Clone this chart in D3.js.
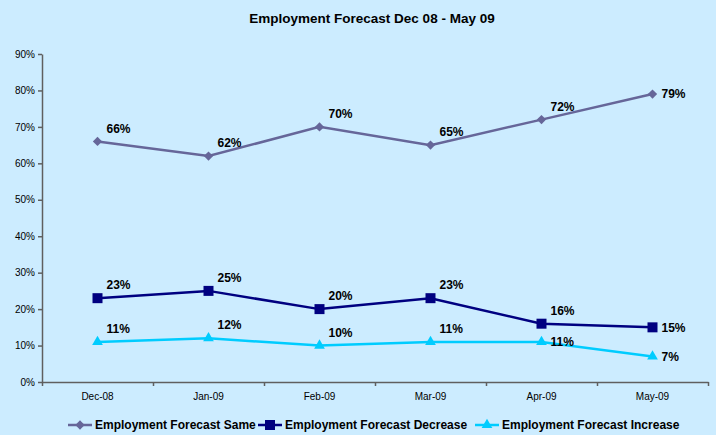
<!DOCTYPE html>
<html>
<head>
<meta charset="utf-8">
<script src="https://cdn.jsdelivr.net/npm/d3@7"></script>
<style>
  body { margin: 0; background: #ccecff; }
  svg { display: block; font-family: "Liberation Sans", Arial, sans-serif; }
</style>
</head>
<body>
<svg id="chart" width="716" height="435"></svg>
<script>
// data
let months = ["Dec-08", "Jan-09", "Feb-09", "Mar-09", "Apr-09", "May-09"];
let sameVals = [0.66, 0.62, 0.70, 0.65, 0.72, 0.79];
let decreaseVals = [0.23, 0.25, 0.20, 0.23, 0.16, 0.15];
let increaseVals = [0.11, 0.12, 0.10, 0.11, 0.11, 0.07];
let yTicks = [0, 0.1, 0.2, 0.3, 0.4, 0.5, 0.6, 0.7, 0.8, 0.9];

// which point labels sit to the right of the marker instead of above it
let series = [
  { name: "Employment Forecast Same", values: sameVals, color: "#666699", symbol: d3.symbolDiamond2, size: 55, labelRight: [5] },
  { name: "Employment Forecast Decrease", values: decreaseVals, color: "#000080", symbol: d3.symbolSquare, size: 100, labelRight: [5] },
  { name: "Employment Forecast Increase", values: increaseVals, color: "#00ccff", symbol: d3.symbolTriangle, size: 50, labelRight: [4, 5] }
];

let svg = d3.select("svg#chart");
let width = 716;
let height = 435;
let margin = { "top": 54, "right": 8, "bottom": 53, "left": 42 };
let chartBottom = height - margin.bottom;
let chartRight = width - margin.right;

svg.append("rect").attr("width", width).attr("height", height).attr("fill", "#ccecff");

// scales
const xScale = d3.scaleBand().domain(months).range([margin.left, chartRight]);
const xEdge = d3.scaleLinear().domain([0, months.length]).range([margin.left, chartRight]);
const yScale = d3.scaleLinear().domain([0, 0.9]).range([chartBottom, margin.top]);
let cx = d => xScale(d) + xScale.bandwidth() / 2;

// title
svg.append("text")
  .attr("x", 372)
  .attr("y", 23)
  .attr("text-anchor", "middle")
  .attr("font-size", "13.5px")
  .attr("font-weight", "bold")
  .text("Employment Forecast Dec 08 - May 09");

// axes
let leftAxis = d3.axisLeft(yScale).tickValues(yTicks).tickFormat(d3.format(".0%"))
  .tickSizeInner(4).tickSizeOuter(0).tickPadding(3);
let gy = svg.append("g")
  .attr("transform", "translate(" + margin.left + ",0)")
  .call(leftAxis);
gy.selectAll("text").attr("font-size", "10px").attr("fill", "#000").attr("font-family", "Liberation Sans, Arial, sans-serif");

let edgeAxis = d3.axisBottom(xEdge).ticks(months.length).tickFormat("").tickSizeInner(4).tickSizeOuter(0);
svg.append("g")
  .attr("transform", "translate(0," + chartBottom + ")")
  .call(edgeAxis);

let bottomAxis = d3.axisBottom(xScale).tickSize(0).tickPadding(11);
let gx = svg.append("g")
  .attr("transform", "translate(0," + chartBottom + ")")
  .call(bottomAxis);
gx.select(".domain").remove();
gx.selectAll("text").attr("font-size", "10px").attr("fill", "#000").attr("font-family", "Liberation Sans, Arial, sans-serif");

svg.selectAll(".domain, .tick line").attr("stroke", "#5f5f5f").attr("stroke-width", 1.5);

// lines, markers, labels
let line = d3.line()
  .x((d, i) => cx(months[i]))
  .y(d => yScale(d));

series.forEach(s => {
  svg.append("path")
    .datum(s.values)
    .attr("d", line)
    .attr("fill", "none")
    .attr("stroke", s.color)
    .attr("stroke-width", 2.5);

  s.values.forEach((v, i) => {
    svg.append("path")
      .attr("d", d3.symbol().type(s.symbol).size(s.size)())
      .attr("transform", "translate(" + cx(months[i]) + "," + yScale(v) + ")")
      .attr("fill", s.color);
  });

  s.values.forEach((v, i) => {
    let right = s.labelRight.includes(i);
    svg.append("text")
      .attr("x", cx(months[i]) + 9)
      .attr("y", yScale(v) + (right ? 0 : -13))
      .attr("dy", "0.35em")
      .attr("font-size", "12px")
      .attr("font-weight", "bold")
      .text(Math.round(v * 100) + "%");
  });
});

// legend
let legendX = [68, 258, 475];
series.forEach((s, i) => {
  let g = svg.append("g").attr("transform", "translate(" + legendX[i] + ",425)");
  g.append("line")
    .attr("x1", 0).attr("x2", 24)
    .attr("stroke", s.color)
    .attr("stroke-width", 2.5);
  g.append("path")
    .attr("d", d3.symbol().type(s.symbol).size(s.size)())
    .attr("transform", "translate(12,0)")
    .attr("fill", s.color);
  g.append("text")
    .attr("x", 27)
    .attr("dy", "0.35em")
    .attr("font-size", "12px")
    .attr("font-weight", "bold")
    .text(s.name);
});
</script>
</body>
</html>
